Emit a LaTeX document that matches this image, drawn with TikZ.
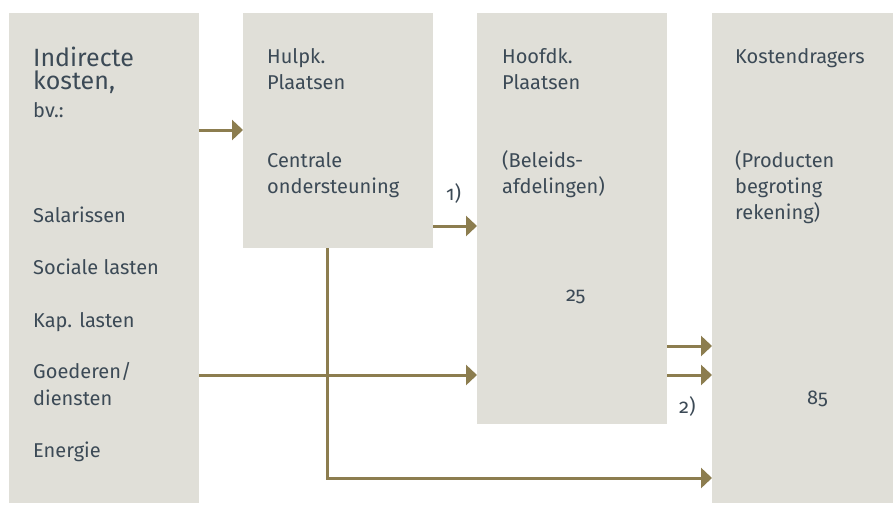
\documentclass[tikz,border=0pt]{standalone}
\usepackage{fontspec}
\setmainfont{Fira Sans}[Numbers=OldStyle]
\usetikzlibrary{arrows.meta}
\definecolor{boxfill}{HTML}{E0DFD8}
\definecolor{txt}{HTML}{3C4A56}
\definecolor{arrc}{HTML}{8C7D4F}
\begin{document}
\begin{tikzpicture}[x=1pt,y=-1pt,
  box/.style={fill=boxfill,draw=none,inner sep=0pt,outer sep=0pt,anchor=north west},
  lbl/.style={anchor=base west,inner sep=0pt,text=txt,font=\fontsize{20}{22}\selectfont},
  big/.style={anchor=base west,inner sep=0pt,text=txt,font=\fontsize{25}{26}\selectfont},
  arr/.style={draw=arrc,line width=3pt,-{Triangle[length=11pt,width=20pt]}}]
\useasboundingbox (0,0) rectangle (893,504);
% boxes
\node[box,minimum width=190pt,minimum height=490pt] (b1) at (9,13) {};
\node[box,minimum width=190pt,minimum height=235pt] (b2) at (243,13) {};
\node[box,minimum width=190pt,minimum height=411pt] (b3) at (477,13) {};
\node[box,minimum width=181pt,minimum height=490pt] (b4) at (712,13) {};
% box 1 texts
\node[big] (t1a) at (33,66) {Indirecte};
\node[big] (t1b) at (33,89) {kosten,};
\node[lbl] (t1c) at (33,117) {bv.:};
\node[lbl] (t1d) at (33,222) {Salarissen};
\node[lbl] (t1e) at (33,274) {Sociale lasten};
\node[lbl] (t1f) at (33,327) {Kap. lasten};
\node[lbl] (t1g) at (33,378) {Goederen/};
\node[lbl] (t1h) at (33,405) {diensten};
\node[lbl] (t1i) at (33,457) {Energie};
% box 2 texts
\node[lbl] (t2a) at (267,63) {Hulpk.};
\node[lbl] (t2b) at (267,89) {Plaatsen};
\node[lbl] (t2c) at (267,167) {Centrale};
\node[lbl] (t2d) at (267,193) {ondersteuning};
% box 3 texts
\node[lbl] (t3a) at (502,63) {Hoofdk.};
\node[lbl] (t3b) at (502,89) {Plaatsen};
\node[lbl] (t3c) at (502,167) {(Beleids-};
\node[lbl] (t3d) at (502,193) {afdelingen)};
\node[lbl] (t3e) at (566,301) {25};
% box 4 texts
\node[lbl] (t4a) at (735,63) {Kostendragers};
\node[lbl] (t4b) at (735,167) {(Producten};
\node[lbl] (t4c) at (735,193) {begroting};
\node[lbl] (t4d) at (735,219) {rekening)};
\node[lbl] (t4e) at (807,404) {85};
% footnote labels
\node[lbl] (n1) at (446,200) {1)};
\node[lbl] (n2) at (679,413) {2)};
% connectors
\coordinate (c1) at (b1.east |- 0,130);
\draw[arr] (c1) -- (c1 -| b2.west);
\coordinate (c2) at (b2.east |- 0,226);
\draw[arr] (c2) -- (c2 -| b3.west);
\coordinate (c3) at (b1.east |- 0,375);
\draw[arr] (c3) -- (c3 -| b3.west);
\coordinate (c4) at (b3.east |- 0,346);
\draw[arr] (c4) -- (c4 -| b4.west);
\coordinate (c5) at (b3.east |- 0,375);
\draw[arr] (c5) -- (c5 -| b4.west);
\coordinate (c6) at (327,0 |- b2.south);
\coordinate (c7) at (327,478);
\draw[arr] (c6) -- (c7) -- (c7 -| b4.west);
\end{tikzpicture}
\end{document}
